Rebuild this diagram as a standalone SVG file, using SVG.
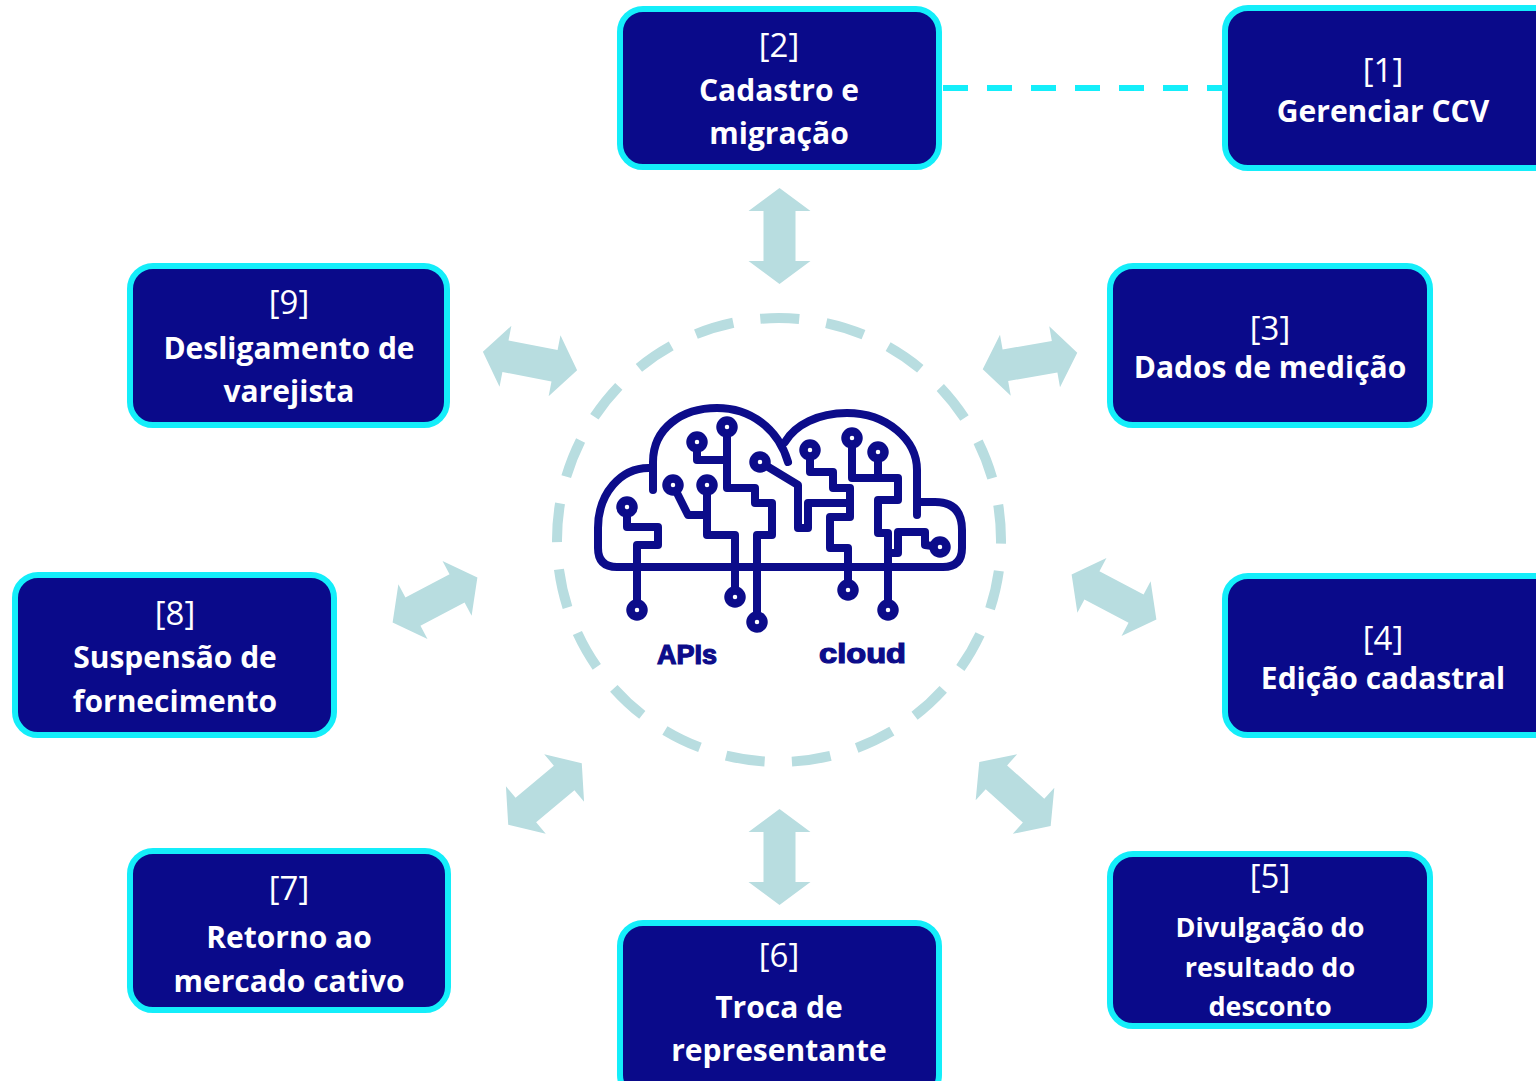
<svg xmlns="http://www.w3.org/2000/svg" width="1536" height="1081" viewBox="0 0 1536 1081">
<defs>
<style>
.box{fill:#0a0a8a;stroke:#14eefa;stroke-width:6}
.num{font-family:"Open Sans","Liberation Sans",sans-serif;font-size:33px;fill:#fff;text-anchor:middle}
.lbl{font-family:"Open Sans","Liberation Sans",sans-serif;font-size:30px;font-weight:700;fill:#fff;text-anchor:middle}
.sm{font-size:27px}
.arr{fill:#b8dde0}
.tr{fill:none;stroke:#0c0c8a;stroke-width:8;stroke-linejoin:round;stroke-linecap:round}
.term{fill:#fff;stroke:#0c0c8a;stroke-width:8.5}
.ic{font-family:"Liberation Sans",Arial,sans-serif;font-size:27px;font-weight:700;fill:#0c0c8a;stroke:#0c0c8a;stroke-width:1.2}
</style>
<path id="dbl" d="M-48 0 L-25 -31 L-25 -16 L25 -16 L25 -31 L48 0 L25 31 L25 16 L-25 16 L-25 31 Z"/>
</defs>
<rect width="1536" height="1081" fill="#fff"/>

<g id="connectors">
<line x1="943" y1="88" x2="1223" y2="88" stroke="#14eefa" stroke-width="6" stroke-dasharray="25 19"/>
<use href="#dbl" class="arr" transform="translate(779.5,236) rotate(90)"/>
<use href="#dbl" class="arr" transform="translate(779.5,857) rotate(90)"/>
<use href="#dbl" class="arr" transform="translate(530,361) rotate(11)"/>
<use href="#dbl" class="arr" transform="translate(1030,361) rotate(-10)"/>
<use href="#dbl" class="arr" transform="translate(435,600) rotate(-28)"/>
<use href="#dbl" class="arr" transform="translate(1114,597) rotate(28)"/>
<use href="#dbl" class="arr" transform="translate(545,794) rotate(-40)"/>
<use href="#dbl" class="arr" transform="translate(1015,794) rotate(42)"/>
</g>

<g id="hub">
<circle cx="779" cy="540" r="222" fill="none" stroke="#b8dde0" stroke-width="10" stroke-dasharray="39 27.4" stroke-dashoffset="35.4"/>
<g id="cloud-icon">
<path class="tr" stroke-width="8.5" d="M652 468 C620 466 598 495 598 528 L598 548 Q598 567 617 567 L943 567 Q962 567 962 548 L962 530 Q962 502 935 502 L918 502"/>
<path class="tr" stroke-width="8.5" d="M653 490 L653 462 C653 428 682 408 717 408 C750 408 778 428 788 462"/>
<path class="tr" stroke-width="8.5" d="M785 442 C795 425 818 413 847 413 C887 413 917 440 917 470 L917 515"/>
<path class="tr" d="M627 507 V527 H658 V545 H637 V610"/>
<path class="tr" d="M673 485 L688 515 H707"/>
<path class="tr" d="M707 485 V535 H735 V595"/>
<path class="tr" d="M697 442 V460 H727"/>
<path class="tr" d="M727 427 V488 H755 V503 H772 V535 H757 V622"/>
<path class="tr" d="M760 462 L798 485 V528 H808 V503 H850"/>
<path class="tr" d="M810 450 V472 H833 V488 H850 V517 H830 V548 H848 V590"/>
<path class="tr" d="M852 438 V478 H898 V500 H878 V533 H888 V610"/>
<path class="tr" d="M878 452 V478"/>
<path class="tr" d="M888 553 H898 V532 H925 V545 L940 547"/>
<circle class="term" cx="627" cy="507" r="6.5"/>
<circle class="term" cx="727" cy="427" r="6.5"/>
<circle class="term" cx="697" cy="442" r="6.5"/>
<circle class="term" cx="760" cy="462" r="6.5"/>
<circle class="term" cx="673" cy="485" r="6.5"/>
<circle class="term" cx="707" cy="485" r="6.5"/>
<circle class="term" cx="810" cy="450" r="6.5"/>
<circle class="term" cx="852" cy="438" r="6.5"/>
<circle class="term" cx="878" cy="452" r="6.5"/>
<circle class="term" cx="940" cy="547" r="6.5"/>
<circle class="term" cx="637" cy="610" r="6.5"/>
<circle class="term" cx="735" cy="597" r="6.5"/>
<circle class="term" cx="757" cy="622" r="6.5"/>
<circle class="term" cx="848" cy="590" r="6.5"/>
<circle class="term" cx="888" cy="610" r="6.5"/>
<text class="ic" x="657" y="664" textLength="60" lengthAdjust="spacingAndGlyphs">APIs</text>
<text class="ic" x="819" y="663" textLength="87" lengthAdjust="spacingAndGlyphs">cloud</text>
</g>
</g>

<g id="node-1">
<rect class="box" x="1225" y="8" width="340" height="160" rx="23"/>
<text class="num" x="1383" y="82">[1]</text>
<text class="lbl" x="1383" y="122">Gerenciar CCV</text>
</g>
<g id="node-2">
<rect class="box" x="620" y="9" width="319" height="158" rx="23"/>
<text class="num" x="779" y="57">[2]</text>
<text class="lbl" x="779" y="101">Cadastro e</text>
<text class="lbl" x="779" y="144">migração</text>
</g>
<g id="node-3">
<rect class="box" x="1110" y="266" width="320" height="159" rx="23"/>
<text class="num" x="1270" y="340">[3]</text>
<text class="lbl" x="1270" y="378">Dados de medição</text>
</g>
<g id="node-4">
<rect class="box" x="1225" y="576" width="340" height="159" rx="23"/>
<text class="num" x="1383" y="650">[4]</text>
<text class="lbl" x="1383" y="689">Edição cadastral</text>
</g>
<g id="node-5">
<rect class="box" x="1110" y="854" width="320" height="172" rx="23"/>
<text class="num" x="1270" y="888">[5]</text>
<text class="lbl sm" x="1270" y="937">Divulgação do</text>
<text class="lbl sm" x="1270" y="977">resultado do</text>
<text class="lbl sm" x="1270" y="1016">desconto</text>
</g>
<g id="node-6">
<rect class="box" x="620" y="923" width="319" height="175" rx="23"/>
<text class="num" x="779" y="967">[6]</text>
<text class="lbl" x="779" y="1018">Troca de</text>
<text class="lbl" x="779" y="1061">representante</text>
</g>
<g id="node-7">
<rect class="box" x="130" y="851" width="318" height="159" rx="23"/>
<text class="num" x="289" y="900">[7]</text>
<text class="lbl" x="289" y="948">Retorno ao</text>
<text class="lbl" x="289" y="992">mercado cativo</text>
</g>
<g id="node-8">
<rect class="box" x="15" y="575" width="319" height="160" rx="23"/>
<text class="num" x="175" y="625">[8]</text>
<text class="lbl" x="175" y="668">Suspensão de</text>
<text class="lbl" x="175" y="712">fornecimento</text>
</g>
<g id="node-9">
<rect class="box" x="130" y="266" width="317" height="159" rx="23"/>
<text class="num" x="289" y="314">[9]</text>
<text class="lbl" x="289" y="359">Desligamento de</text>
<text class="lbl" x="289" y="402">varejista</text>
</g>
</svg>
